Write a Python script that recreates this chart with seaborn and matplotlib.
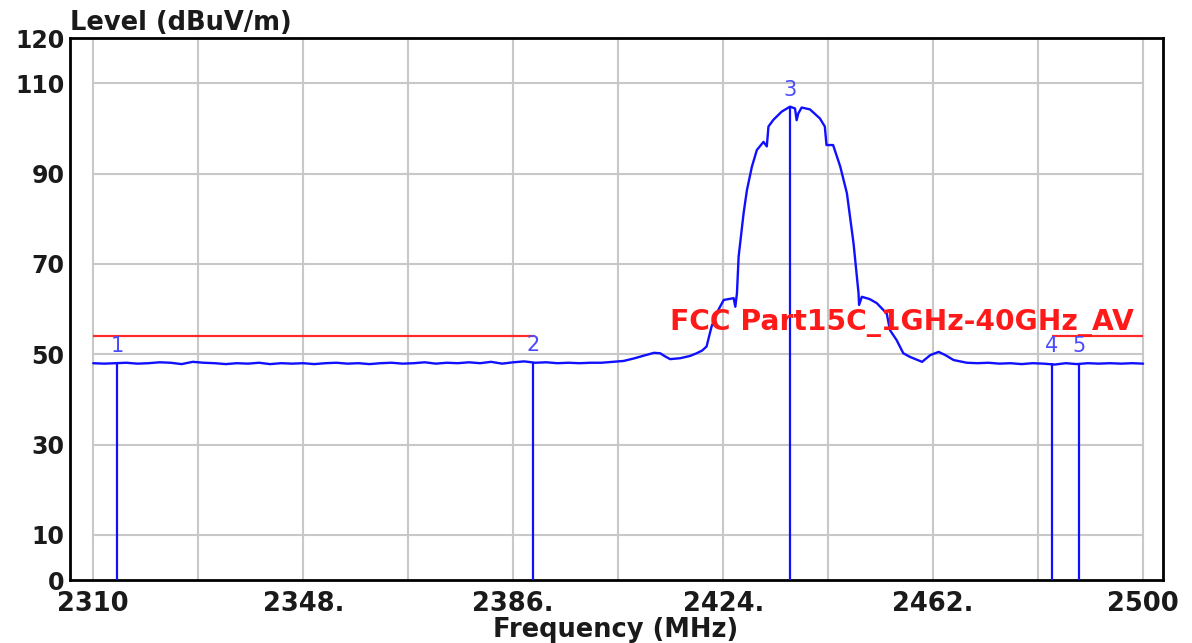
import matplotlib
matplotlib.use("Agg")
import matplotlib.pyplot as plt
import pandas as pd
import seaborn as sns

# trace (MHz, dBuV/m)
freq = [
    2310, 2312, 2314, 2316, 2318, 2320, 2322, 2324, 2326, 2328,
    2330, 2332, 2334, 2336, 2338, 2340, 2342, 2344, 2346, 2348,
    2350, 2352, 2354, 2356, 2358, 2360, 2362, 2364, 2366, 2368,
    2370, 2372, 2374, 2376, 2378, 2380, 2382, 2384, 2386, 2388,
    2390, 2392, 2394, 2396, 2398, 2400,
    2402, 2404, 2406, 2408, 2410, 2411.5, 2412.6, 2413.5, 2414.4, 2416.2,
    2418, 2419.2, 2420.2, 2421.0, 2421.9, 2423.0, 2424.1, 2425.9, 2426.2, 2426.5,
    2426.8, 2427.7, 2428.3, 2429.2, 2430.1, 2431.3, 2431.9, 2432.2, 2433.1, 2434.6,
    2436.1, 2437.0, 2437.3, 2437.6, 2438.2, 2439.7, 2441.5, 2442.4, 2442.7, 2443.9,
    2445.2, 2446.4, 2447.6, 2448.5, 2448.6, 2449.1, 2450.5, 2451.8, 2453.6, 2454.2,
    2455.4, 2456.6, 2457.8, 2460.0, 2461.5, 2463.0, 2464.2, 2465.7, 2468.1,
    2470, 2472, 2474, 2476, 2478, 2480, 2482, 2484, 2486, 2488,
    2490, 2492, 2494, 2496, 2498, 2500,
]
level = [
    48.0, 47.9, 48.0, 48.1, 47.9, 48.0, 48.2, 48.1, 47.8, 48.3,
    48.1, 48.0, 47.8, 48.0, 47.9, 48.1, 47.8, 48.0, 47.9, 48.0,
    47.8, 48.0, 48.1, 47.9, 48.0, 47.8, 48.0, 48.1, 47.9, 48.0,
    48.2, 47.9, 48.1, 48.0, 48.2, 48.0, 48.3, 47.9, 48.2, 48.4,
    48.1, 48.2, 48.0, 48.1, 48.0, 48.1,
    48.1, 48.3, 48.5, 49.1, 49.8, 50.3, 50.2, 49.5, 48.9, 49.1,
    49.6, 50.2, 50.8, 51.7, 56.1, 59.5, 62.0, 62.4, 60.5, 63.5,
    71.6, 81.2, 86.3, 91.5, 95.2, 97.0, 96.0, 100.4, 101.9, 103.7,
    104.8, 104.4, 101.8, 103.3, 104.6, 104.2, 102.2, 100.4, 96.3, 96.3,
    91.5, 85.6, 74.5, 63.5, 60.9, 62.7, 62.2, 61.3, 59.0, 55.3,
    53.1, 50.2, 49.4, 48.3, 49.8, 50.5, 49.8, 48.7, 48.1,
    48.0, 48.1, 47.9, 48.0, 47.8, 48.0, 47.9, 47.7, 48.0, 47.8,
    48.0, 47.9, 48.0, 47.9, 48.0, 47.9,
]

# markers
marker_ids = ["1", "2", "3", "4", "5"]
marker_freq = [2314.3, 2389.6, 2436.1, 2483.5, 2488.4]
marker_level = [48.0, 48.3, 104.8, 48.0, 48.0]

# FCC average limit, restricted bands only
limit_level = 54.0
limit_bands = [(2310, 2390), (2483.5, 2500)]
limit_name = "FCC Part15C_1GHz-40GHz_AV"

x_ticks = [2310, 2348, 2386, 2424, 2462, 2500]
x_ticklabels = ["2310", "2348.", "2386.", "2424.", "2462.", "2500"]
y_ticks = [0, 10, 30, 50, 70, 90, 110, 120]
x_grid = [2310 + 19 * i for i in range(11)]
y_grid = [10, 30, 50, 70, 90, 110]

sns.set_style("white")
plt.rcParams["font.family"] = ["DejaVu Sans"]

fig = plt.figure(figsize=(11.92, 6.43), dpi=100)
ax = fig.add_axes([70 / 1192, 63 / 643, 1093 / 1192, 542 / 643])

grid_color = "#c8c8c8"
ax.hlines(y_grid, 2310, 2500, color=grid_color, lw=1.5, zorder=0)
ax.vlines(x_grid, 0, 120, color=grid_color, lw=1.5, zorder=0)

blue = "#1010ff"
df = pd.DataFrame({"freq": freq, "level": level})
sns.lineplot(data=df, x="freq", y="level", ax=ax, color=blue, lw=1.7, sort=False)

for lo, hi in limit_bands:
    ax.hlines(limit_level, lo, hi, color="#ff2a2a", lw=1.6, zorder=3)
ax.text(2498.3, 55.3, limit_name, color="#ff1a1a", fontsize=20.3,
        fontweight="bold", ha="right", va="baseline", zorder=5)

ax.vlines(marker_freq, 0, marker_level, color=blue, lw=1.6, zorder=4)
for mid, mf, ml in zip(marker_ids, marker_freq, marker_level):
    ax.text(mf, ml + 1.5, mid, color="#4a4aff", fontsize=15,
            ha="center", va="bottom", zorder=5)

ax.set_xlim(2305.8, 2503.6)
ax.set_ylim(0, 120)
ax.set_xticks(x_ticks)
ax.set_xticklabels(x_ticklabels, fontsize=18.5, fontweight="bold", color="#1a1a1a")
ax.set_yticks(y_ticks)
ax.set_yticklabels([str(v) for v in y_ticks], fontsize=17, fontweight="bold",
                   color="#1a1a1a")
ax.tick_params(axis="x", length=0, pad=8)
ax.tick_params(axis="y", length=0, pad=4)
ax.set_xlabel("")
ax.set_ylabel("")
for sp in ax.spines.values():
    sp.set_color("black")
    sp.set_linewidth(2)

fig.text(70 / 1192, 1 - 30 / 643, "Level (dBuV/m)", fontsize=18.5,
         fontweight="bold", color="#1a1a1a", ha="left", va="baseline")
fig.text(616 / 1192, 1 - 637 / 643, "Frequency (MHz)", fontsize=18.5,
         fontweight="bold", color="#1a1a1a", ha="center", va="baseline")

fig.savefig("out.png", dpi=100)
plt.close(fig)
